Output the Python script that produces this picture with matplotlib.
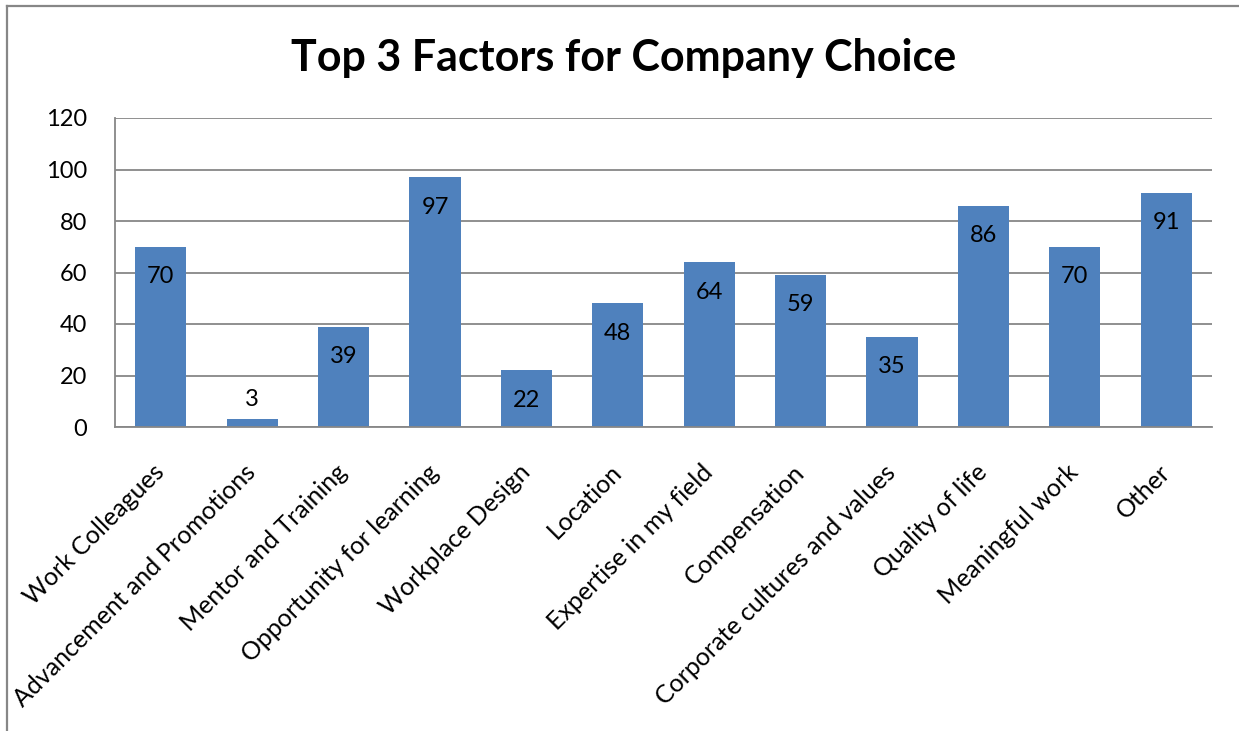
import matplotlib
matplotlib.use("Agg")
import matplotlib.pyplot as plt
from matplotlib.lines import Line2D

# Survey results: how often each factor was picked among the top 3
factors = [
    "Work Colleagues",
    "Advancement and Promotions",
    "Mentor and Training",
    "Opportunity for learning",
    "Workplace Design",
    "Location",
    "Expertise in my field",
    "Compensation",
    "Corporate cultures and values",
    "Quality of life",
    "Meaningful work",
    "Other",
]
counts = [70, 3, 39, 97, 22, 48, 64, 59, 35, 86, 70, 91]
y_ticks = [0, 20, 40, 60, 80, 100, 120]

plt.rcParams["font.family"] = ["Lato", "DejaVu Sans"]

W, H = 1239, 731
fig = plt.figure(figsize=(W / 100, H / 100), dpi=100)
fig.patch.set_facecolor("white")

# outer chart frame (runs off the right and bottom edges)
grey = "#878787"
fig.add_artist(Line2D([7 / W, 7 / W], [0, 1 - 6 / H], color=grey, lw=1.6,
                      transform=fig.transFigure))
fig.add_artist(Line2D([7 / W, 1], [1 - 6 / H, 1 - 6 / H], color=grey, lw=1.6,
                      transform=fig.transFigure))

ax = fig.add_axes([115 / W, 1 - 427 / H, (1212 - 115) / W, (427 - 118) / H])

x = list(range(len(factors)))
ax.bar(x, counts, width=0.56, color="#4F81BD", zorder=3)

for xi, v in zip(x, counts):
    if v < 10:
        ax.annotate(str(v), (xi, v), xytext=(0, 14), textcoords="offset points",
                    ha="center", va="center", fontsize=17, zorder=4)
    else:
        ax.annotate(str(v), (xi, v), xytext=(0, -21.5), textcoords="offset points",
                    ha="center", va="center", fontsize=17, zorder=4)

ax.set_xlim(-0.5, len(factors) - 0.5)
ax.set_ylim(0, 120)
ax.set_yticks(y_ticks)
ax.set_yticklabels([str(t) for t in y_ticks], fontsize=17)
ax.set_xticks(x)
ax.set_xticklabels(factors, rotation=45, ha="right", va="center",
                   rotation_mode="anchor", fontsize=18)
ax.tick_params(axis="both", length=0)
ax.tick_params(axis="y", pad=20)
ax.tick_params(axis="x", pad=30)

ax.grid(axis="y", color=grey, lw=1.3, zorder=0)
for side in ["top", "right"]:
    ax.spines[side].set_visible(False)
for side in ["left", "bottom"]:
    ax.spines[side].set_color(grey)
    ax.spines[side].set_linewidth(1.3)
    ax.spines[side].set_zorder(5)

fig.text(624 / W, 1 - 58 / H, "Top 3 Factors for Company Choice",
         ha="center", va="center", fontsize=31, fontweight="bold")

fig.savefig("out.png", dpi=100)
